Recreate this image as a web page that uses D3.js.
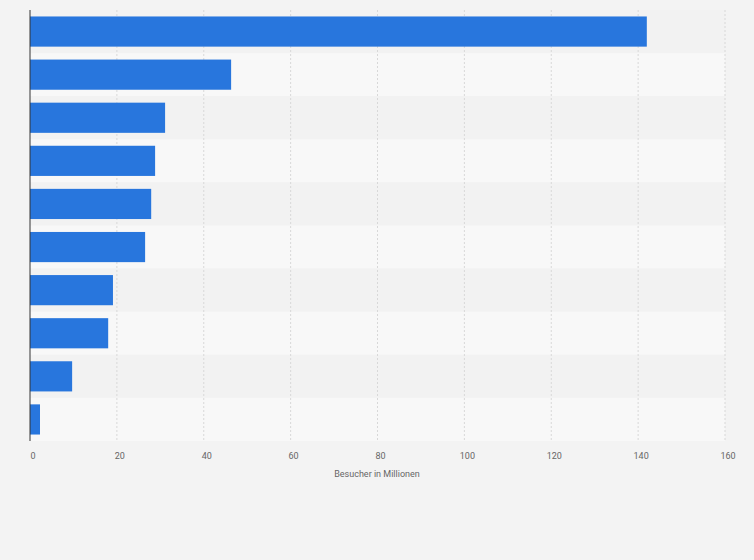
<!DOCTYPE html><html><head><meta charset="utf-8"><script src="https://cdn.jsdelivr.net/npm/d3@7"></script>
<style>body{margin:0;background:#f3f3f3;font-family:Roboto,Arial,sans-serif}</style></head><body><svg id="c" width="754" height="560"></svg><script>
const categories=["1","2","3","4","5","6","7","8","9","10"];
const values=[142,46.3,31.1,28.8,27.9,26.5,19.1,18,9.7,2.3];
const ticks=[0,20,40,60,80,100,120,140,160];
const axisTitle="Besucher in Millionen";
const svg=d3.select("#c");
const x=d3.scaleLinear().domain([0,160]).range([30,725]);
const y=d3.scaleBand().domain(categories).range([10,441]).paddingInner(0.3).paddingOuter(0.15);
const band=d3.scaleBand().domain(categories).range([10,441]);
svg.append("g").selectAll("rect").data(categories).join("rect").attr("x",30).attr("width",695)
 .attr("y",d=>band(d)).attr("height",band.bandwidth()).attr("fill",(d,i)=>i%2?"#f8f8f8":"#f2f2f2");
svg.append("g").selectAll("line").data(ticks.slice(1)).join("line").attr("x1",d=>x(d)).attr("x2",d=>x(d))
 .attr("y1",10).attr("y2",441).attr("stroke","#d8d8d8").attr("stroke-dasharray","2,2");
svg.append("g").selectAll("rect").data(values).join("rect").attr("x",x(0)).attr("y",(d,i)=>y(categories[i]))
 .attr("height",y.bandwidth()).attr("width",d=>x(d)-x(0)).attr("fill","#2876dd");
svg.append("line").attr("x1",30).attr("x2",30).attr("y1",10).attr("y2",441).attr("stroke","#333");
svg.append("g").selectAll("text").data(ticks).join("text").attr("x",d=>x(d)+3).attr("y",459).attr("text-anchor","middle")
 .attr("font-size",9).attr("fill","#666").text(d=>d);
svg.append("text").attr("x",377).attr("y",477).attr("text-anchor","middle").attr("font-size",9).attr("fill","#666").text(axisTitle);
</script></body></html>
